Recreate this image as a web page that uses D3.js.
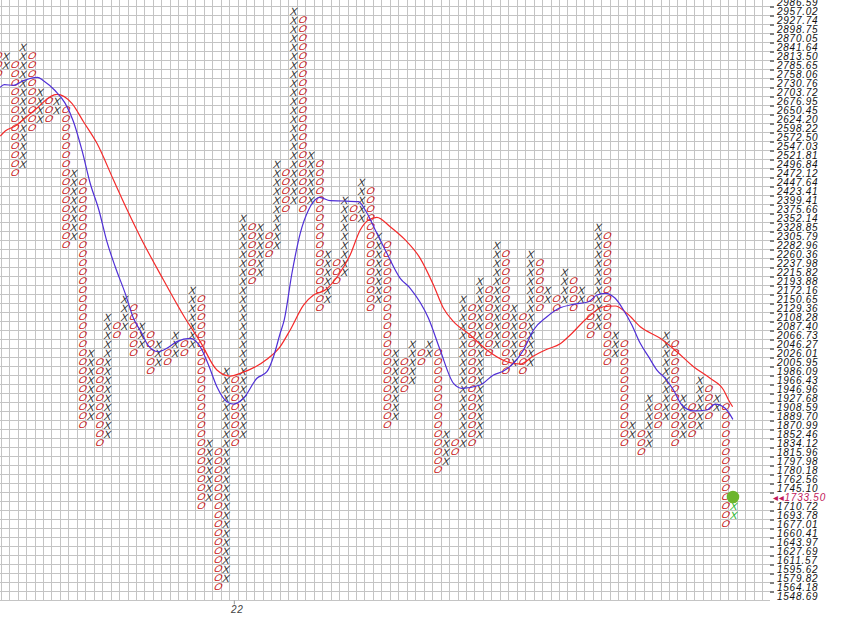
<!DOCTYPE html>
<html>
<head>
<meta charset="utf-8">
<script src="https://cdn.jsdelivr.net/npm/d3@7"></script>
<style>
  html, body { margin: 0; padding: 0; background: #fff; overflow: hidden; }
  svg { display: block; }
  .box { font-family: "Liberation Sans", Arial, sans-serif; font-size: 10.5px; text-anchor: middle; }
  .price text, .date text { font-family: "Liberation Sans", Arial, sans-serif; font-style: italic; font-size: 10px; letter-spacing: .75px; }
</style>
</head>
<body>
<script>
// box prices, bottom row first
const priceLabels = ["1548.69","1564.18","1579.82","1595.62","1611.57","1627.69","1643.97","1660.41","1677.01","1693.78","1710.72","","1745.10","1762.56","1780.18","1797.98","1815.96","1834.12","1852.46","1870.99","1889.70","1908.59","1927.68","1946.96","1966.43","1986.09","2005.95","2026.01","2046.27","2066.73","2087.40","2108.28","2129.36","2150.65","2172.16","2193.88","2215.82","2237.98","2260.36","2282.96","2305.79","2328.85","2352.14","2375.66","2399.41","2423.41","2447.64","2472.12","2496.84","2521.81","2547.03","2572.50","2598.22","2624.20","2650.45","2676.95","2703.72","2730.76","2758.06","2785.65","2813.50","2841.64","2870.05","2898.75","2927.74","2957.02","2986.59"];

const currentPrice = "1733.50";
const currentRow = 11;

// one entry per column, the first one is cut by the left edge
const firstColumn = -1;
const colTypes = ("OXOXOXOXOX" + "OXOXOXOXOX" + "OXOXOXOXOX" + "OXOXOXOXOX" + "OXOXOXOXOX" + "OXOXOXOXOX" + "OXOXOXOXOX" + "OXOXOXOXOX" + "OXOXOXOX").split("");
// top and bottom box row of each column
const colHigh = [60,60,59,61,60,56,55,55,54,47,46,27,26,31,30,33,32,30,29,28,27,29,28,34,33,17,16,25,24,42,41,41,40,48,47,65,64,49,48,38,37,44,43,46,45,40,39,27,26,28,27,28,27,18,17,33,32,35,34,39,38,32,31,38,37,34,33,36,35,34,33,41,40,29,28,19,18,22,21,29,28,22,21,24,23,22,21,10];
const colLow = [58,59,47,48,52,53,53,54,39,40,19,20,17,18,29,30,27,28,25,26,26,27,27,28,10,11,1,2,17,18,35,36,38,39,43,44,43,44,32,33,35,36,42,42,32,33,19,20,23,24,26,27,14,15,16,17,17,18,27,28,25,26,25,26,32,33,32,33,32,33,29,30,26,27,17,18,16,17,19,20,17,18,18,19,20,21,8,9];

// moving averages: column position and box row
const blueCols = [-0.61,-0.14,0.96,2.14,3.79,4.5,5.89,7.07,8.05,9.04,10.02,11.05,12,12.98,14.16,15.14,16.13,16.91,18.03,19.09,20.27,21.84,23.03,24.01,25,26.18,26.96,28.14,29.73,30.91,31.69,32.48,32.96,33.87,34.85,35.83,36.42,37.13,38.39,39.96,41.74,42.53,43.91,45.09,46.67,47.85,50.01,51.39,52.97,53.96,56.12,57.69,58.88,60.06,61.24,62.42,64.01,65.58,67.15,68.93,69.92,70.9,72.08,73.06,74.05,75.04,76.02,77.01,77.99,78.97,79.96,81.34,82.92,83.9,85.08,85.99];
const blueRows = [56.52,56.81,56.74,57.26,57.63,57.26,56.14,54.74,52.7,49.56,45.86,42.89,39.37,36.59,33.63,30.86,29.19,27.78,27.14,27.52,28.26,28.63,27.7,25.67,23.26,21.59,21.33,21.97,24.19,24.92,26.59,29.19,30.67,35.86,40.3,42.89,43.81,44.3,43.92,43.89,43.81,42.89,40.3,38.08,35.3,34.19,30.86,27.33,23.63,23.08,23.44,24.56,25,25.86,27.33,29.56,31.03,32.02,32.41,32.7,33.44,33.63,33.08,31.78,30.11,28.08,26.59,25.11,24.19,22.89,21.22,20.56,20.67,21.33,20.86,19.63];
const redCols = [-0.61,-0.02,1.16,2.54,3.72,5.3,6.09,7.86,9.23,10.82,12.78,14.36,15.93,18.69,21.25,23.03,25,26.57,27.76,30.91,32.48,33.66,35.24,36.42,37.8,39.37,40.75,41.94,42.92,43.91,45.48,47.26,49.03,50.6,51.78,52.97,54.94,56.91,59.28,60.85,62.42,64.01,65.58,66.76,68.74,70.7,72.08,73.46,75.04,77.4,79.37,81.34,83.31,84.89,85.48,85.96];
const redRows = [51.11,51.67,52.22,53.26,54.19,55.48,55.74,54.74,52.7,50.3,46.22,42.97,39.92,35.11,30.86,28.26,25.11,24.44,24.74,26.3,27.72,29.56,32.33,33.44,34,35.67,37.89,40.67,41.78,42.08,41.03,39.56,37.52,34.56,31.97,30.48,29,27.33,26.03,25.78,26.67,27.41,28.02,29,30.86,32.14,32.22,31.41,29.92,28.63,27.14,25.48,24.19,22.89,21.78,21.03];

const dateCols = [27];
const dateNames = ["22"];

const width = 844, height = 627;
const gridRight = 770, gridBottom = 600.5;

const svg = d3.select("body").append("svg")
    .attr("width", width)
    .attr("height", height);

const xScale = d3.scaleLinear().domain([0, 90]).range([5.4, 5.4 + 90 * 8.46]);
const yScale = d3.scaleLinear().domain([0, 66]).range([596, 2]);

// grid lines sit half a box away from the box centres
const grid = svg.append("g").attr("stroke", "#c4c4c4").attr("stroke-width", 1);

grid.selectAll(".v").data(d3.range(0, 91)).enter().append("line")
    .attr("x1", d => Math.floor(xScale(d) - 4.23) + 0.5)
    .attr("x2", d => Math.floor(xScale(d) - 4.23) + 0.5)
    .attr("y1", 0)
    .attr("y2", gridBottom);

grid.selectAll(".h").data(d3.range(0, 67)).enter().append("line")
    .attr("x1", 0)
    .attr("x2", gridRight)
    .attr("y1", d => Math.floor(yScale(d) + 4.5) + 0.5)
    .attr("y2", d => Math.floor(yScale(d) + 4.5) + 0.5);

// every box of every column
const boxes = [];
colTypes.forEach((t, i) => {
    d3.range(colLow[i], colHigh[i] + 1).forEach(r => {
        boxes.push({col: i + firstColumn, row: r, type: t});
    });
});

svg.append("g").selectAll("text").data(boxes).enter().append("text")
    .attr("class", "box")
    .attr("transform", d => d.type == "O"
        ? `translate(${xScale(d.col)},${yScale(d.row) + 3.4}) skewX(-24) scale(.98,.92)`
        : `translate(${xScale(d.col)},${yScale(d.row) + 3.7}) skewX(-14) scale(1.02,1.02)`)
    .attr("fill", d => d.col == 86 ? "#2fb52f" : d.type == "X" ? "#333" : "#c81414")
    .text(d => d.type);

const maLine = d3.line()
    .x(d => xScale(d[0]))
    .y(d => yScale(d[1]))
    .curve(d3.curveMonotoneX);

svg.append("path")
    .datum(d3.zip(redCols, redRows))
    .attr("d", maLine)
    .attr("fill", "none")
    .attr("stroke", "#f42a2a")
    .attr("stroke-width", 1.2);

svg.append("path")
    .datum(d3.zip(blueCols, blueRows))
    .attr("d", maLine)
    .attr("fill", "none")
    .attr("stroke", "#4f2fd6")
    .attr("stroke-width", 1.2);

// price axis, tick on the upper line of each box row
const priceAxis = d3.axisRight(yScale.copy().range([591.5, -2.5]))
    .tickValues(d3.range(0, 67))
    .tickSize(4)
    .tickPadding(3)
    .tickFormat(d => priceLabels[d]);

const priceG = svg.append("g")
    .attr("class", "price")
    .attr("transform", `translate(${gridRight},0)`)
    .call(priceAxis);

priceG.select(".domain").remove();
priceG.selectAll(".tick line").attr("stroke", "#000");
priceG.selectAll(".tick text").attr("fill", "#111").attr("dy", null).attr("y", 7.6);

svg.append("text")
    .attr("x", 773)
    .attr("y", yScale(currentRow) + 3.6)
    .attr("fill", "#c2185b")
    .style("font-family", '"Liberation Sans", "DejaVu Sans", sans-serif')
    .style("font-style", "italic")
    .style("font-size", "10px")
    .style("letter-spacing", ".75px")
    .text("\u25C2\u25C2" + currentPrice);

svg.append("circle")
    .attr("cx", xScale(86))
    .attr("cy", yScale(currentRow))
    .attr("r", 6.3)
    .attr("fill", "#6cb52d");

const dateAxis = d3.axisBottom(xScale)
    .tickValues(dateCols)
    .tickSize(4)
    .tickPadding(1)
    .tickFormat((d, i) => dateNames[i]);

const dateG = svg.append("g")
    .attr("class", "date")
    .attr("transform", `translate(0,${gridBottom})`)
    .call(dateAxis);

dateG.select(".domain").remove();
dateG.selectAll(".tick line").attr("stroke", "#999");
dateG.selectAll(".tick text").attr("fill", "#444").attr("dx", 3);
</script>
</body>
</html>
